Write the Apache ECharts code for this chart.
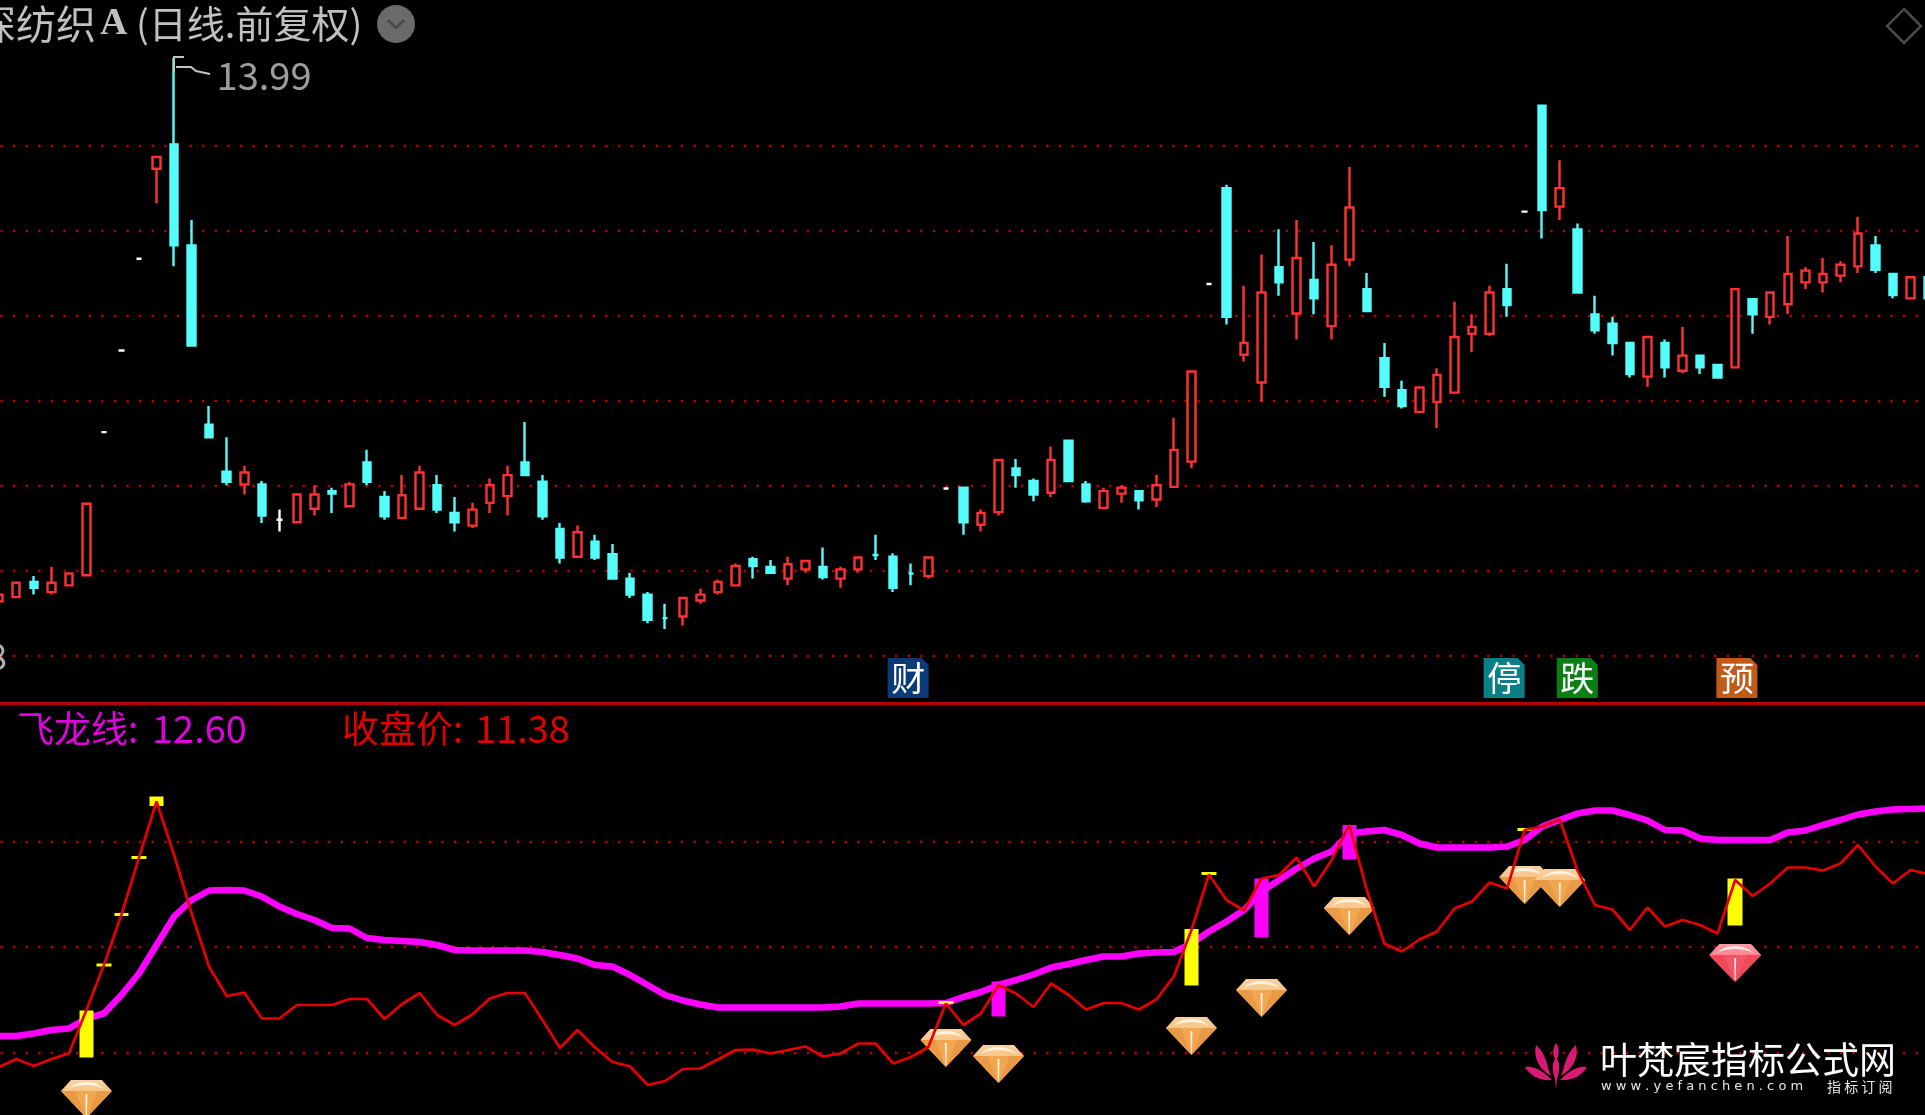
<!DOCTYPE html>
<html><head><meta charset="utf-8">
<style>html,body{margin:0;padding:0;background:#000;overflow:hidden}#c{width:1925px;height:1115px}</style>
<script src="https://cdn.jsdelivr.net/npm/echarts@6/dist/echarts.min.js"></script>
</head><body><div id="c"></div>
<script>
// daily bars: open, close, low, high (price pane)
const ohlc = [
[7.53,7.61,7.53,7.61],[7.58,7.75,7.58,7.75],[7.76,7.69,7.61,7.83],[7.64,7.75,7.61,7.94],[7.72,7.86,7.72,7.86],
[7.84,8.69,7.84,8.69],[9.54,9.54,9.54,9.54],[10.51,10.51,10.51,10.51],[11.60,11.60,11.60,11.60],[12.67,12.81,12.26,12.81],
[12.96,11.76,11.51,13.99],[11.76,10.57,10.57,12.06],[9.63,9.48,9.48,9.85],[9.07,8.95,8.91,9.48],[8.92,9.06,8.80,9.14],
[8.92,8.55,8.46,8.96],[8.50,8.50,8.36,8.62],[8.47,8.80,8.47,8.80],[8.63,8.80,8.55,8.91],[8.84,8.81,8.58,8.88],
[8.66,8.92,8.66,8.95],[9.18,8.95,8.91,9.33],[8.77,8.54,8.50,8.84],[8.52,8.79,8.52,9.03],[8.63,9.06,8.63,9.14],
[8.91,8.62,8.58,9.03],[8.58,8.47,8.36,8.77],[8.43,8.62,8.40,8.70],[8.70,8.91,8.58,8.99],[8.78,9.03,8.55,9.14],
[9.18,9.03,9.03,9.66],[8.95,8.54,8.50,9.03],[8.39,8.05,7.98,8.46],[8.06,8.35,8.06,8.43],[8.24,8.05,8.02,8.32],
[8.09,7.80,7.80,8.21],[7.80,7.61,7.57,7.87],[7.61,7.31,7.27,7.64],[7.33,7.33,7.20,7.50],[7.35,7.57,7.24,7.57],
[7.54,7.61,7.50,7.68],[7.64,7.76,7.61,7.79],[7.72,7.95,7.72,7.98],[8.03,7.95,7.80,8.06],[7.94,7.87,7.87,8.02],
[7.80,7.97,7.72,8.06],[7.91,8.01,7.87,8.01],[7.94,7.82,7.79,8.17],[7.80,7.91,7.69,7.94],[7.91,8.05,7.87,8.05],
[8.08,8.08,8.02,8.32],[8.06,7.69,7.64,8.10],[7.86,7.86,7.72,7.98],[7.83,8.05,7.80,8.05],[8.87,8.87,8.87,8.87],
[8.88,8.47,8.32,8.88],[8.44,8.58,8.36,8.62],[8.59,9.21,8.55,9.21],[9.11,9.03,8.88,9.22],[8.96,8.80,8.72,8.99],
[8.82,9.21,8.77,9.37],[9.44,8.96,8.96,9.44],[8.92,8.72,8.70,8.96],[8.64,8.84,8.62,8.88],[8.81,8.88,8.70,8.91],
[8.84,8.73,8.62,8.84],[8.74,8.91,8.65,9.03],[8.89,9.33,8.89,9.71],[9.19,10.26,9.11,10.26],[11.30,11.30,11.30,11.30],
[12.44,10.91,10.82,12.48],[10.46,10.60,10.38,11.28],[10.13,11.20,9.90,11.65],[11.50,11.32,11.16,11.95],[10.95,11.61,10.64,12.06],
[11.35,11.13,10.94,11.80],[10.80,11.53,10.64,11.76],[11.59,12.21,11.51,12.69],[11.24,10.98,10.98,11.43],[10.42,10.08,9.96,10.60],
[10.04,9.85,9.82,10.15],[9.78,10.07,9.78,10.07],[9.90,10.22,9.59,10.30],[10.01,10.67,10.01,11.09],[10.71,10.79,10.49,10.94],
[10.71,11.20,10.68,11.28],[11.24,11.05,10.91,11.54],[12.16,12.16,12.16,12.16],[13.42,12.18,11.84,13.42],[12.22,12.44,12.06,12.77],
[11.95,11.20,11.20,12.02],[10.94,10.75,10.71,11.16],[10.83,10.60,10.45,10.91],[10.60,10.23,10.19,10.60],[10.20,10.67,10.08,10.67],
[10.60,10.31,10.19,10.64],[10.27,10.45,10.24,10.79],[10.45,10.31,10.23,10.45],[10.34,10.19,10.19,10.34],[10.31,11.24,10.31,11.24],
[11.12,10.94,10.71,11.12],[10.91,11.20,10.82,11.20],[11.06,11.42,10.94,11.87],[11.32,11.46,11.24,11.50],[11.32,11.42,11.20,11.61],
[11.40,11.53,11.32,11.57],[11.51,11.90,11.43,12.10],[11.76,11.47,11.43,11.87],[11.42,11.17,11.13,11.42],[11.13,11.38,11.13,11.38],
[11.38,11.13,11.13,11.38]];
const whiteDojiIdx = [6,7,8,16,54,69,87];
// lower pane lines
const closeLine = [7.44,7.60,7.46,7.60,7.71,8.58,9.48,10.49,11.63,12.75,11.68,10.51,9.44,8.86,8.93,8.41,8.41,8.68,8.68,8.68,8.80,8.80,8.40,8.70,8.92,8.48,8.28,8.49,8.81,8.92,8.92,8.38,7.82,8.18,7.83,7.54,7.45,
7.08,7.16,7.40,7.41,7.59,7.78,7.79,7.71,7.78,7.85,7.65,7.71,
7.91,7.91,7.51,7.64,7.84,8.71,8.28,8.51,9.08,8.91,8.64,9.11,8.88,8.59,8.72,8.72,8.59,8.79,9.25,10.18,11.29,10.78,10.57,11.21,11.28,11.63,11.05,11.58,12.28,10.98,9.91,9.75,
9.99,10.15,10.61,10.75,11.13,11.01,12.18,12.25,12.39,11.38,10.68,10.59,10.18,10.63,10.25,10.38,10.28,10.11,11.18,10.86,11.11,11.43,11.43,11.37,11.51,11.88,11.45,11.11,11.38,11.30];
const dragonLine = [8.06,8.06,8.11,8.18,8.21,8.41,8.51,8.88,9.31,9.88,10.45,10.78,10.97,10.98,10.97,10.85,10.65,10.50,10.38,10.22,10.21,10.02,9.98,9.96,9.94,9.88,9.78,9.77,9.77,9.77,9.77,9.74,9.68,9.61,9.48,9.45,9.28,
9.08,8.88,8.77,8.69,8.63,8.63,8.63,8.63,8.63,8.63,8.63,8.65,
8.71,8.71,8.71,8.71,8.71,8.72,8.84,8.94,9.08,9.18,9.29,9.43,9.50,9.58,9.65,9.65,9.71,9.73,9.74,9.91,10.15,10.35,10.58,10.95,11.18,11.41,11.61,11.75,12.11,12.15,12.18,12.08,
11.91,11.83,11.83,11.83,11.83,11.85,11.98,12.25,12.38,12.51,12.57,12.57,12.48,12.37,12.18,12.17,12.01,11.98,11.98,11.98,11.98,12.13,12.17,12.28,12.38,12.49,12.55,12.59,12.60,12.61];
const lastIdx = 109;
const yellowBars = [[5,7.63,8.57],[6,9.45,9.51],[7,10.46,10.52],[8,11.60,11.66],[9,12.66,12.85],[54,8.70,8.76],[68,9.07,10.20],[69,11.28,11.34],[87,12.16,12.22],[99,10.27,11.21]];
const magentaBars = [[57,8.45,9.15],[72,10.03,11.21],[77,11.59,12.28]];
const goldGems = [[5,6.80],[54,7.82],[57,7.50],[68,8.06],[72,8.82],[77,10.46],[87,11.08],[89,11.02]];
const redGems = [[99,9.52]];
const upperGrid = [12.94,11.93,10.92,9.91,8.90,7.89,6.88];
const lowerGrid = [11.94,9.84,7.72];
const badgeIdx = [51.85,85.83,90,99.1];
const badgeText = ['财','停','跌','预'];
const badgeColor = ['#0b3a78','#0a7f88','#0a8012','#c25a18'];
const badgePrice = 6.62;
const titleName = '深纺织', titleCode = 'A', titleRest = '(日线.前复权)';
const name1 = '飞龙线', name2 = '收盘价';

const CJK = '"Noto Sans CJK SC"';
const xMin = 0.074, xMax = 109.824;
const rows = ohlc.map((r, i) => [i, ...r]);
const mainData = rows.filter(r => r[1] !== r[2]);
const dojiData = rows.filter(r => r[1] === r[2]).map(r => {
  const c = whiteDojiIdx.includes(r[0]) ? '#fff' : '#54fcfc';
  return {value:r, itemStyle:{color:c,color0:c,borderColor:c,borderColor0:c}};
});
const stick = list => list.map(([i,lo,hi]) => [i,lo,hi,lo,hi]);
const xy = a => a.map((v,i) => [i,v]);
const gem = (l, m, d, t) => 'image://data:image/svg+xml;charset=utf-8,' + encodeURIComponent(
 `<svg xmlns="http://www.w3.org/2000/svg" width="102" height="76" viewBox="0 0 51 38">
 <defs><linearGradient id="g" x1="0" y1="0" x2="0" y2="1"><stop offset="0" stop-color="${l}"/><stop offset="1" stop-color="${m}"/></linearGradient></defs>
 <polygon points="10,0 41,0 51,11 25.5,38 0,11" fill="url(#g)"/>
 <polygon points="0,11 25.5,38 15,11" fill="${d}"/><polygon points="51,11 25.5,38 36,11" fill="${d}"/>
 <polygon points="15,11 36,11 26,36 25,36" fill="${m}"/>
 <path d="M8 9 Q14 2 25.5 2 Q37 2 43 9 Q36 5 25.5 5 Q15 5 8 9Z" fill="${t}"/>
 <polygon points="24.5,14 26.5,14 26,36 25,36" fill="${t}"/></svg>`);
const goldSym = gem('#f9d2a0','#f2a650','#ea9a44','#fff3e0');
const redSym = gem('#ff9aa2','#f25565','#f04a5a','#ffe6e6');
const gridSeries = (vals, xi) => vals.map(v => ({type:'line', xAxisIndex:xi, yAxisIndex:xi, data:[[xMin,v],[xMax,v]], symbol:'none', silent:true, z:1,
  lineStyle:{color:'#b80000', width:2.4, type:[2.4,10.2], dashOffset:-0.4}}));
const txt = (text, x, y, size, fill, extra) => ({type:'text', x, y, silent:true, z:50, style:Object.assign({text, fill, font:`${size}px ${CJK}`, textVerticalAlign:'middle'}, extra||{})});
const lotusSvg = 'data:image/svg+xml;charset=utf-8,' + encodeURIComponent(
 '<svg xmlns="http://www.w3.org/2000/svg" width="124" height="94" viewBox="0 0 62 47"><g fill="#d81a72">' +
 '<path d="M11 2C8 14 14 26 26 33C22 24 22 12 11 2Z"/><path d="M51 2C54 14 48 26 36 33C40 24 40 12 51 2Z"/>' +
 '<path d="M0 24C10 22 20 30 27 37C16 38 6 34 0 24Z"/><path d="M62 24C52 22 42 30 35 37C46 38 56 34 62 24Z"/>' +
 '<path d="M31 0C27 6 28 12 30 16C26 22 28 30 30 36L31 47L32 36C34 30 36 22 32 16C34 12 35 6 31 0Z"/></g></svg>');
const xAx = (gi, line) => ({type:'value',gridIndex:gi,min:xMin,max:xMax,axisTick:{show:false},axisLabel:{show:false},splitLine:{show:false},
  axisLine:{show:line,onZero:false,lineStyle:{color:'#b80000',width:3}}});
const enc = {x:0,y:[1,2,3,4]};

const chart = echarts.init(document.getElementById('c'), null, {renderer:'canvas'});
chart.setOption({
  animation:false, backgroundColor:'#000',
  grid:[{left:0,top:0,width:1925,height:703},{left:0,top:703,width:1925,height:412}],
  xAxis:[xAx(0,true),xAx(1,false)],
  yAxis:[
    {type:'value',gridIndex:0,min:6.322,max:14.675,show:false,splitLine:{show:false}},
    {type:'value',gridIndex:1,min:6.48,max:14.72,show:false,splitLine:{show:false}}],
  series:[
    ...gridSeries(upperGrid,0), ...gridSeries(lowerGrid,1),
    {type:'candlestick',name:'K',xAxisIndex:0,yAxisIndex:0,data:mainData,encode:enc,barWidth:8,z:3,silent:true,
      itemStyle:{color:'#000',color0:'#54fcfc',borderColor:'#ff3232',borderColor0:'#54fcfc',borderWidth:2.4}},
    {type:'candlestick',name:'doji',xAxisIndex:0,yAxisIndex:0,data:dojiData,encode:enc,barWidth:6,z:3,silent:true,
      itemStyle:{borderWidth:2.4}},
    {type:'scatter',xAxisIndex:0,yAxisIndex:0,data:badgeIdx.map((j,k)=>({value:[j,badgePrice],itemStyle:{color:badgeColor[k],opacity:1},label:{formatter:badgeText[k]}})),
      symbol:'path://M0 0H34L41 7V40H0Z',symbolSize:[41,40],z:4,silent:true,
      label:{show:true,position:'inside',color:'#fff',fontSize:34,fontFamily:'"Noto Sans CJK SC"'}},
    {type:'scatter',xAxisIndex:0,yAxisIndex:0,data:[[10,ohlc[10][3]]],symbol:'circle',symbolSize:1,itemStyle:{color:'rgba(0,0,0,0)'},z:5,silent:true,
      label:{show:true,position:'right',formatter:p=>p.value[1].toFixed(2),color:'#c4c4c4',fontSize:38,fontFamily:'"Noto Sans CJK SC"',offset:[37,18]}},
    {type:'line',name:name1,xAxisIndex:1,yAxisIndex:1,data:xy(dragonLine),symbol:'none',z:3,silent:true,lineStyle:{color:'#ff00ff',width:6.5}},
    {type:'candlestick',xAxisIndex:1,yAxisIndex:1,data:stick(magentaBars),encode:enc,barWidth:15,z:4,silent:true,itemStyle:{color:'#ff00ff',color0:'#ff00ff',borderColor:'#ff00ff',borderColor0:'#ff00ff',borderWidth:0}},
    {type:'candlestick',xAxisIndex:1,yAxisIndex:1,data:stick(yellowBars),encode:enc,barWidth:15,z:4,silent:true,itemStyle:{color:'#ffff00',color0:'#ffff00',borderColor:'#ffff00',borderColor0:'#ffff00',borderWidth:0}},
    {type:'scatter',xAxisIndex:1,yAxisIndex:1,data:goldGems,symbol:goldSym,symbolSize:[51,38],itemStyle:{opacity:1},z:5,silent:true,clip:false},
    {type:'scatter',xAxisIndex:1,yAxisIndex:1,data:redGems,symbol:redSym,symbolSize:[52,38],itemStyle:{opacity:1},z:5,silent:true},
    {type:'line',name:name2,xAxisIndex:1,yAxisIndex:1,data:xy(closeLine),symbol:'none',z:6,silent:true,lineStyle:{color:'#e60000',width:2.7}}
  ],
  graphic:[
    txt(titleName,-24,24,40,'#c0c0c0'),
    {type:'text',x:100,y:24,z:50,silent:true,style:{text:titleCode,fill:'#c0c0c0',font:'bold 38px "Liberation Serif"',textVerticalAlign:'middle'}},
    txt(titleRest,136,24,38,'#c0c0c0'),
    {type:'circle',z:50,silent:true,shape:{cx:396,cy:24,r:19},style:{fill:'#6a6a6a'}},
    {type:'polyline',z:51,silent:true,shape:{points:[[388,20],[396,28],[404,20]]},style:{stroke:'#484848',lineWidth:2.5,fill:null}},
    {type:'polygon',z:50,silent:true,shape:{points:[[1904,9],[1921,26],[1904,43],[1887,26]]},style:{stroke:'#4a4a4a',lineWidth:2.5,fill:null}},
    {type:'polyline',z:50,silent:true,shape:{points:[[184,57],[174,57],[174,72]]},style:{stroke:'#c4c4c4',lineWidth:2,fill:null}},
    {type:'polyline',z:50,silent:true,shape:{points:[[176,67],[191,67],[196,71],[210,74]]},style:{stroke:'#c4c4c4',lineWidth:2,fill:null}},
    txt(upperGrid[6].toFixed(2),7,656,37,'#b0b0b0',{textAlign:'right'}),
    txt(name1+':',17,729,37,'#e000e0'),
    txt(dragonLine[lastIdx].toFixed(2),152,729,38,'#e000e0'),
    txt(name2+':',342,729,37,'#e00000'),
    txt(closeLine[lastIdx].toFixed(2),475,729,38,'#e00000'),
    {type:'image',z:50,silent:true,style:{image:lotusSvg,x:1525,y:1043,width:62,height:47}},
    txt('叶梵宸指标公式网',1600,1060,37,'#ffffff'),
    txt('w w w . y e f a n c h e n . c o m',1601,1087,13,'#e8e8e8',{font:'13px "DejaVu Sans"'}),
    txt('指 标 订 阅',1827,1087,14,'#e8e8e8')
  ]
});
</script></body></html>
